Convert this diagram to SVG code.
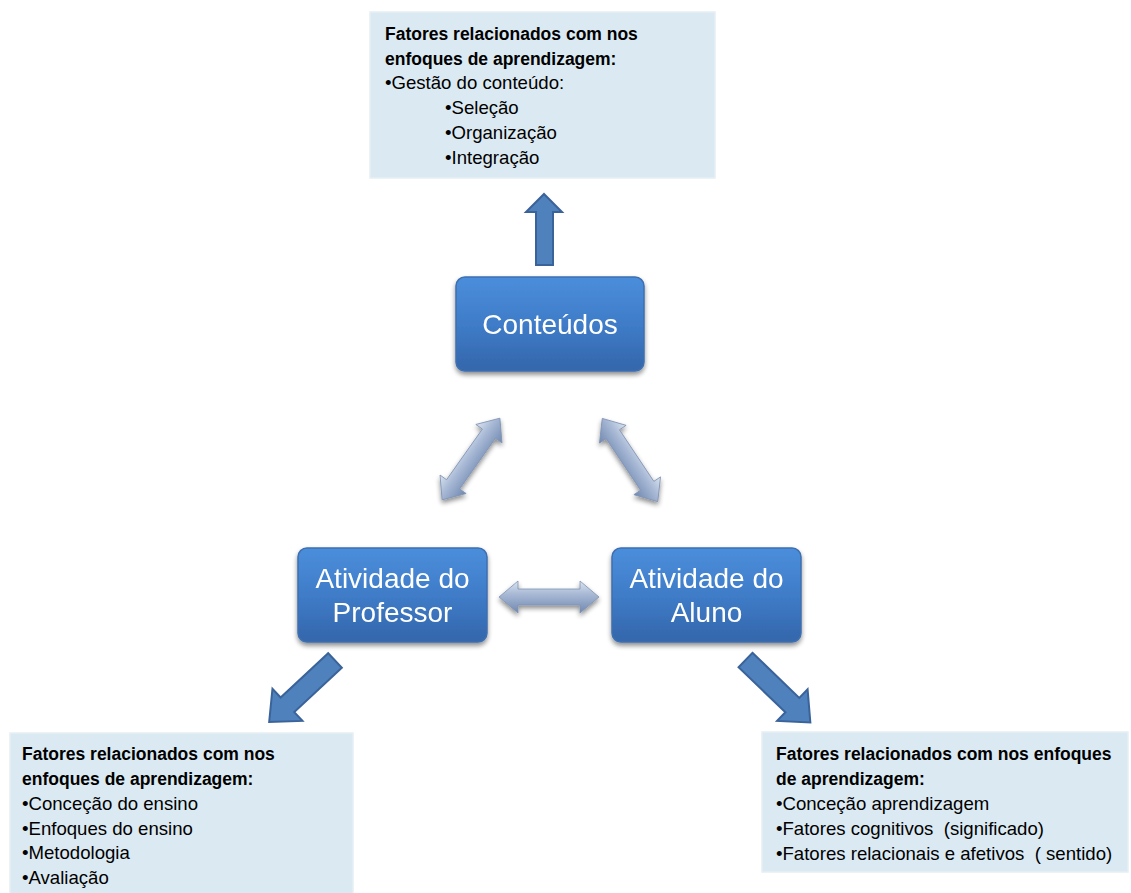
<svg xmlns="http://www.w3.org/2000/svg" width="1131" height="893" viewBox="0 0 1131 893">
<defs>
<style>
.info{fill:#dbeaf2;stroke:#e6eff5;stroke-width:1.5}
.t{font-family:"Liberation Sans",Arial,sans-serif;font-size:18.6px;fill:#000;white-space:pre}
.b{font-weight:bold;font-size:17.5px}
.node{fill:url(#blue);stroke:#3d6fb0;stroke-width:1.5}
.lbl{font-family:"Liberation Sans",Arial,sans-serif;font-size:28px;fill:#fff;text-anchor:middle}
.blk{fill:#4f81bd;stroke:#3a639a;stroke-width:2}
.dbl{fill:url(#steel);stroke:#7f93b3;stroke-width:0.8}
</style>
<linearGradient id="blue" x1="0" y1="0" x2="0" y2="1">
<stop offset="0" stop-color="#4b8edb"/>
<stop offset="0.5" stop-color="#3f7cc8"/>
<stop offset="1" stop-color="#3466ab"/>
</linearGradient>
<linearGradient id="steel" x1="0" y1="0" x2="0" y2="1">
<stop offset="0" stop-color="#dbe3ef"/>
<stop offset="0.4" stop-color="#a9bad6"/>
<stop offset="1" stop-color="#7088b0"/>
</linearGradient>
<filter id="sh" x="-10%" y="-10%" width="120%" height="130%">
<feGaussianBlur in="SourceAlpha" stdDeviation="2.5"/>
<feOffset dx="0" dy="3" result="b"/>
<feComponentTransfer><feFuncA type="linear" slope="0.45"/></feComponentTransfer>
<feMerge><feMergeNode/><feMergeNode in="SourceGraphic"/></feMerge>
</filter>
<polygon id="dblArrow" points="-50,0 -31,-16 -31,-8 31,-8 31,-16 50,0 31,16 31,8 -31,8 -31,16"/>
</defs>
<rect width="1131" height="893" fill="#fff"/>

<g id="info-conteudos">
<rect class="info" x="370" y="12" width="345" height="166"/>
<text class="t b" x="385" y="40">Fatores relacionados com nos</text>
<text class="t b" x="385" y="65">enfoques de aprendizagem:</text>
<text class="t" x="385" y="89">•Gestão do conteúdo:</text>
<text class="t" x="445" y="114">•Seleção</text>
<text class="t" x="445" y="139">•Organização</text>
<text class="t" x="445" y="164">•Integração</text>
</g>

<g id="info-professor">
<rect class="info" x="10" y="733" width="343" height="170"/>
<text class="t b" x="22" y="760">Fatores relacionados com nos</text>
<text class="t b" x="22" y="785">enfoques de aprendizagem:</text>
<text class="t" x="22" y="810">•Conceção do ensino</text>
<text class="t" x="22" y="835">•Enfoques do ensino</text>
<text class="t" x="22" y="859">•Metodologia</text>
<text class="t" x="22" y="884">•Avaliação</text>
</g>

<g id="info-aluno">
<rect class="info" x="762" y="732" width="366" height="140"/>
<text class="t b" x="776" y="760">Fatores relacionados com nos enfoques</text>
<text class="t b" x="776" y="785">de aprendizagem:</text>
<text class="t" x="776" y="810">•Conceção aprendizagem</text>
<text class="t" x="776" y="835">•Fatores cognitivos  (significado)</text>
<text class="t" x="776" y="860">•Fatores relacionais e afetivos  ( sentido)</text>
</g>

<g id="node-conteudos" filter="url(#sh)">
<rect class="node" x="456" y="277" width="188" height="94" rx="9"/>
<text class="lbl" x="550" y="334">Conteúdos</text>
</g>

<g id="node-professor" filter="url(#sh)">
<rect class="node" x="298" y="548" width="189" height="94" rx="9"/>
<text class="lbl" x="392.5" y="588">Atividade do</text>
<text class="lbl" x="392.5" y="622">Professor</text>
</g>

<g id="node-aluno" filter="url(#sh)">
<rect class="node" x="612" y="548" width="189" height="94" rx="9"/>
<text class="lbl" x="706.5" y="588">Atividade do</text>
<text class="lbl" x="706.5" y="622">Aluno</text>
</g>

<g id="connectors">
<polygon class="blk" points="544,194 562,212 553,212 553,265 536,265 536,212 526,212"/>
<g filter="url(#sh)">
<use href="#dblArrow" class="dbl" transform="translate(471,459) rotate(-54.7)"/>
<use href="#dblArrow" class="dbl" transform="translate(630,460) rotate(56.3)"/>
<use href="#dblArrow" class="dbl" transform="translate(549,597)"/>
</g>
<polygon class="blk" transform="translate(335,660.5) rotate(137)" points="0,-10 65,-10 65,-22 90,0 65,22 65,10 0,10"/>
<polygon class="blk" transform="translate(745.5,660) rotate(43.9)" points="0,-10 65,-10 65,-22 90,0 65,22 65,10 0,10"/>
</g>
</svg>
